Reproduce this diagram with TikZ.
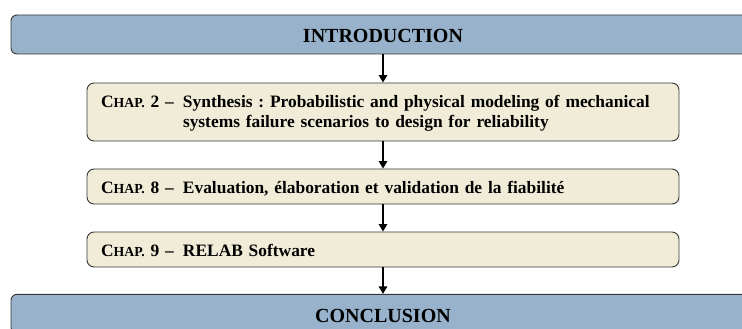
\documentclass[tikz,border=0pt]{standalone}
\usepackage{fontspec}
\setmainfont{Liberation Serif}
\usetikzlibrary{arrows.meta}
\frenchspacing

\definecolor{partblue}{RGB}{152,178,203}
\definecolor{chapbeige}{RGB}{240,236,216}
\definecolor{edgegray}{RGB}{55,55,55}

\newcommand{\chaplabel}[1]{\makebox[82pt][l]{C{\fontsize{13.8}{16}\selectfont HAP.} #1 --}}

\tikzset{
  partbox/.style={draw=edgegray, fill=partblue, rounded corners=6pt, line width=0.9pt,
    minimum width=744pt, minimum height=39pt, inner ysep=0pt,
    text height=19pt, text depth=2.6pt, font=\fontsize{20}{24}\selectfont\bfseries},
  chapbox/.style={draw=edgegray, fill=chapbeige, rounded corners=7pt, line width=0.9pt,
    inner xsep=14pt, inner ysep=0pt, text width=564pt, align=left,
    text height=16.5pt, text depth=3pt, minimum height=35pt,
    font=\fontsize{17.4}{20.5}\selectfont\bfseries},
  flow/.style={-{Triangle[length=7.5pt,width=8.5pt]}, line width=1.4pt}
}

\begin{document}
\begin{tikzpicture}[x=1pt,y=-1pt]
  \useasboundingbox (0,0) rectangle (742,329);
  \node [partbox] (intro) at (383,34.5) {INTRODUCTION};
  \node [chapbox, minimum height=58pt, text depth=26.5pt] (ch2) at (383,112)
    {\chaplabel{2}\parbox[t]{480pt}{Synthesis : Probabilistic and physical modeling of mechanical\\ systems failure scenarios to design for reliability}};
  \node [chapbox] (ch8) at (383,186.5) {\chaplabel{8}Evaluation, élaboration et validation de la fiabilité};
  \node [chapbox] (ch9) at (383,249.5) {\chaplabel{9}RELAB Software};
  \node [partbox] (concl) at (383,313.8) {CONCLUSION};
  \draw [flow] (intro) -- (ch2);
  \draw [flow] (ch2) -- (ch8);
  \draw [flow] (ch8) -- (ch9);
  \draw [flow] (ch9) -- (concl);
\end{tikzpicture}
\end{document}
